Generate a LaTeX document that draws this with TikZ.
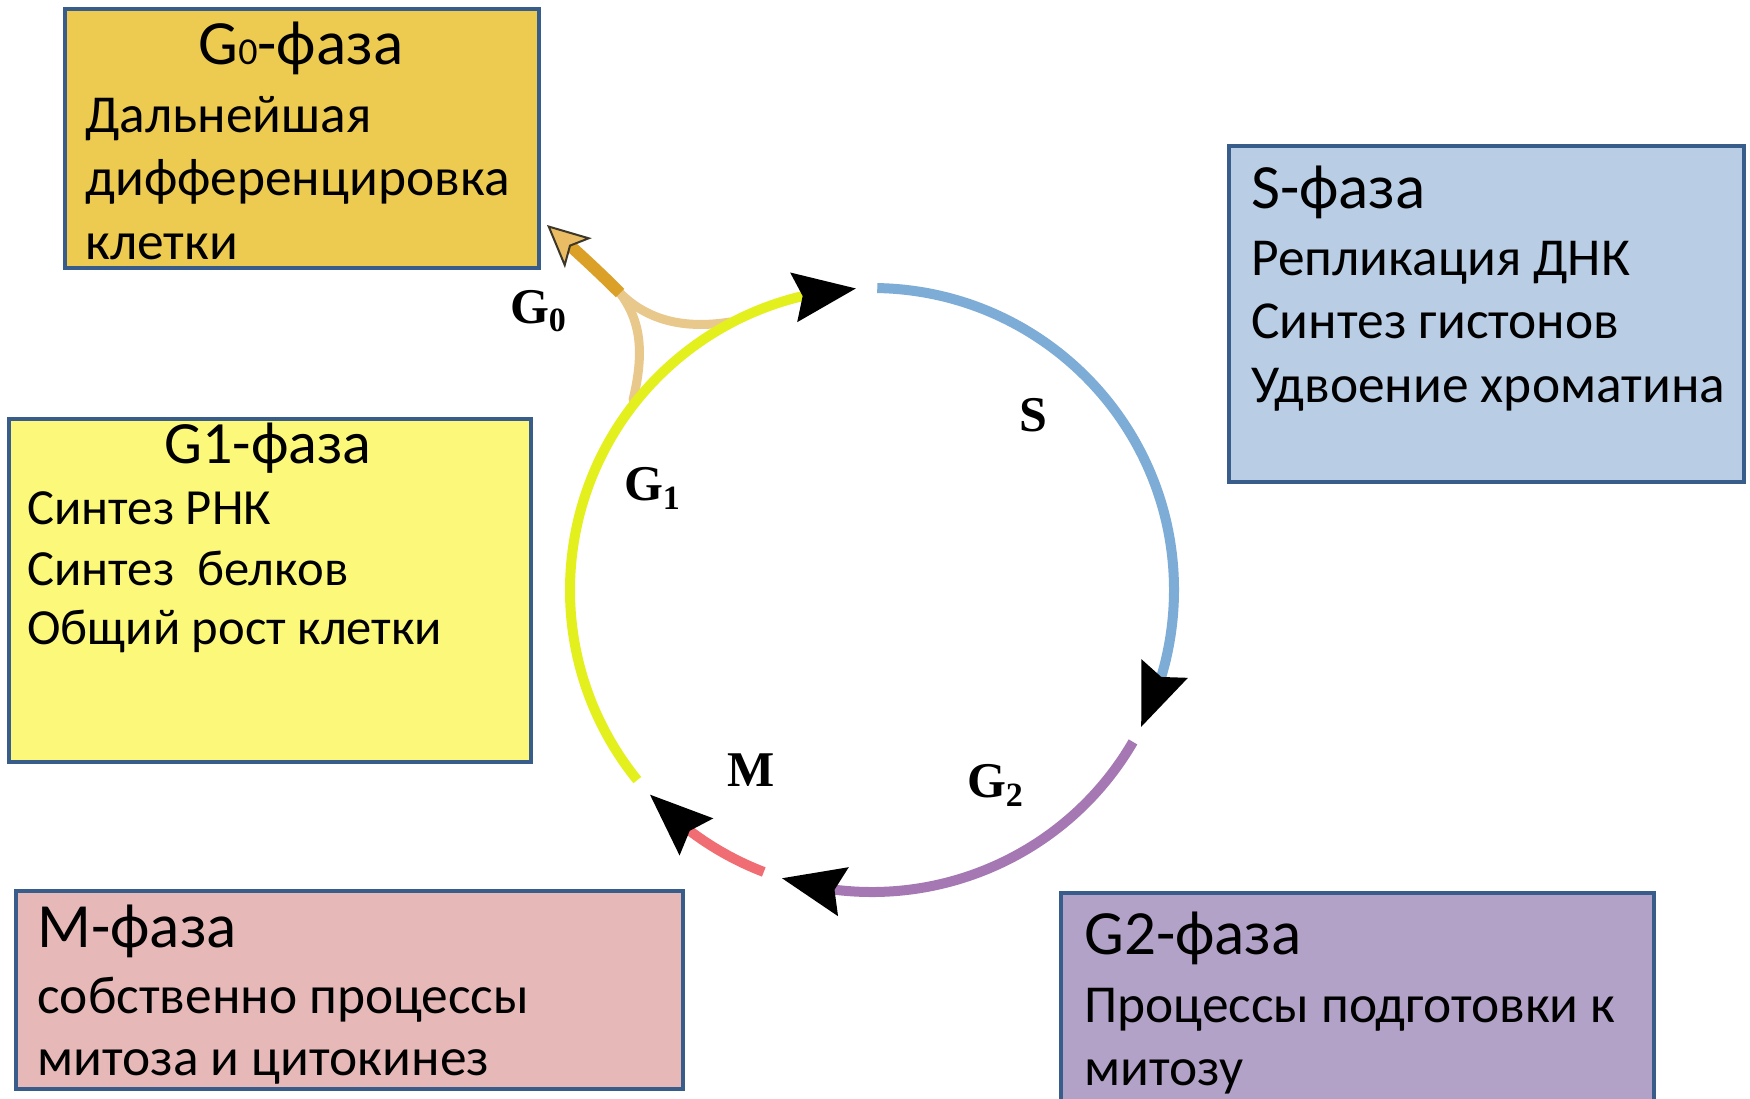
\documentclass[tikz,border=0pt]{standalone}
\usepackage{fontspec}
\setmainfont{Carlito}
\newfontfamily\lblfont{Liberation Serif}
\usetikzlibrary{arrows.meta,bending}
\definecolor{bord}{RGB}{56,93,138}
\definecolor{gzfill}{RGB}{237,203,80}
\definecolor{sfill}{RGB}{185,205,229}
\definecolor{gofill}{RGB}{252,248,122}
\definecolor{mfill}{RGB}{230,185,184}
\definecolor{gtfill}{RGB}{179,162,199}
\definecolor{arcy}{RGB}{228,240,30}
\definecolor{arcs}{RGB}{125,172,214}
\definecolor{arcp}{RGB}{165,120,180}
\definecolor{arcm}{RGB}{240,110,115}
\definecolor{shaftc}{RGB}{218,160,40}
\definecolor{branchc}{RGB}{233,200,140}
\definecolor{tipfill}{RGB}{234,188,100}
\definecolor{tipdark}{RGB}{60,55,40}
\begin{document}
\begin{tikzpicture}[x=0.5pt,y=-0.5pt,
  box/.style={draw=bord, line width=2pt, anchor=north west, inner sep=0pt, outer sep=0pt},
  hd/.style={anchor=base west, inner sep=0pt, font=\fontsize{31.5pt}{36pt}\selectfont},
  bd/.style={anchor=base west, inner sep=0pt, font=\fontsize{26.7pt}{32pt}\selectfont},
  hdsm/.style={anchor=base, inner sep=0pt, font=\fontsize{30pt}{34pt}\selectfont},
  bdsm/.style={anchor=base west, inner sep=0pt, font=\fontsize{25.3pt}{30pt}\selectfont},
  lbl/.style={inner sep=0pt, font=\lblfont\bfseries\fontsize{25pt}{28pt}\selectfont},
  phase/.style={line width=5pt},
  tip/.style={-{Stealth[length=31pt,width=24pt,inset=4pt,flex,color=black]}},
  branch/.style={draw=branchc, line width=4.5pt, line cap=round}
]
\useasboundingbox (0,0) rectangle (1750,1098);
\fill[white] (0,0) rectangle (1750,1098);

% boxes
\node[box, fill=gzfill, minimum width=237pt, minimum height=129.5pt] (g0box) at (65,9) {};
\node[box, fill=sfill, minimum width=257.5pt, minimum height=168pt] (sbox) at (1229,146) {};
\node[box, fill=gofill, minimum width=261pt, minimum height=171.75pt] (g1box) at (9,418.5) {};
\node[box, fill=mfill, minimum width=333.7pt, minimum height=99.2pt] (mbox) at (15.6,890.6) {};
\node[box, fill=gtfill, minimum width=296.5pt, minimum height=108.5pt] (g2box) at (1061,893) {};

% G0 box text
\node[hd, anchor=base] (g0h) at (301,64) {G{\fontsize{19pt}{20pt}\selectfont 0}-фаза};
\node[bd] (g0a) at (85,132) {Дальнейшая};
\node[bd] (g0b) at (85,195) {дифференцировка};
\node[bd] (g0c) at (85,259) {клетки};

% S box text
\node[hd] (sh) at (1251,208) {S-фаза};
\node[bd] (sa) at (1251,275) {Репликация ДНК};
\node[bd] (sb) at (1251,338) {Синтез гистонов};
\node[bd] (sc) at (1251,402) {Удвоение хроматина};

% G1 box text
\node[hdsm] (g1h) at (268,463) {G1-фаза};
\node[bdsm] (g1a) at (27,524.5) {Синтез РНК};
\node[bdsm] (g1b) at (27,585) {Синтез\ \ белков};
\node[bdsm] (g1c) at (27,644) {Общий рост клетки};

% M box text
\node[hd] (mh) at (37,947.5) {M-фаза};
\node[bd] (ma) at (37,1013) {собственно процессы};
\node[bd] (mb) at (37,1075) {митоза и цитокинез};

% G2 box text
\node[hd] (g2h) at (1084,954) {G2-фаза};
\node[bd] (g2a) at (1084,1022) {Процессы подготовки к};
\node[bd] (g2b) at (1084,1085) {митозу};

% G0 branch
\coordinate (fork) at (620,293);
\coordinate (g0tip) at (547,225);
\coordinate (lowj) at (633,400);
\coordinate (upj) at (730,322);
\draw[branch] (lowj) .. controls (645,350) and (640,320) .. (fork);
\draw[branch] (upj) .. controls (680,330) and (645,318) .. (fork);
\draw[shaftc, line width=6pt, -{Stealth[length=21pt,width=20pt,inset=5pt,fill=tipfill,color=tipdark,line width=1pt]}] (fork) .. controls (595,268) and (575,250) .. (g0tip);

% cycle arcs
\coordinate (c) at (872,590);
\begin{scope}[shift={(872,590)}, y=0.5pt]
  \draw[phase, arcy, tip] (219:302) arc[start angle=219, end angle=93, radius=302];
  \draw[phase, arcs, tip] (89:302) arc[start angle=89, end angle=-27, radius=302];
  \draw[phase, arcp, tip] (-30.2:302) arc[start angle=-30.2, end angle=-107.4, radius=302];
  \draw[phase, arcm, tip] (-111:302) arc[start angle=-111, end angle=-137.4, radius=302];
\end{scope}

% labels
\node[lbl] (lg0) at (538,311) {G\raisebox{-4pt}{\fontsize{17pt}{17pt}\selectfont 0}};
\node[lbl] (ls) at (1033,415) {S};
\node[lbl] (lg1) at (652,488) {G\raisebox{-4.5pt}{\fontsize{17pt}{17pt}\selectfont 1}};
\node[lbl] (lm) at (751,770) {M};
\node[lbl] (lg2) at (995,785) {G\raisebox{-4.5pt}{\fontsize{17pt}{17pt}\selectfont 2}};
\end{tikzpicture}
\end{document}
